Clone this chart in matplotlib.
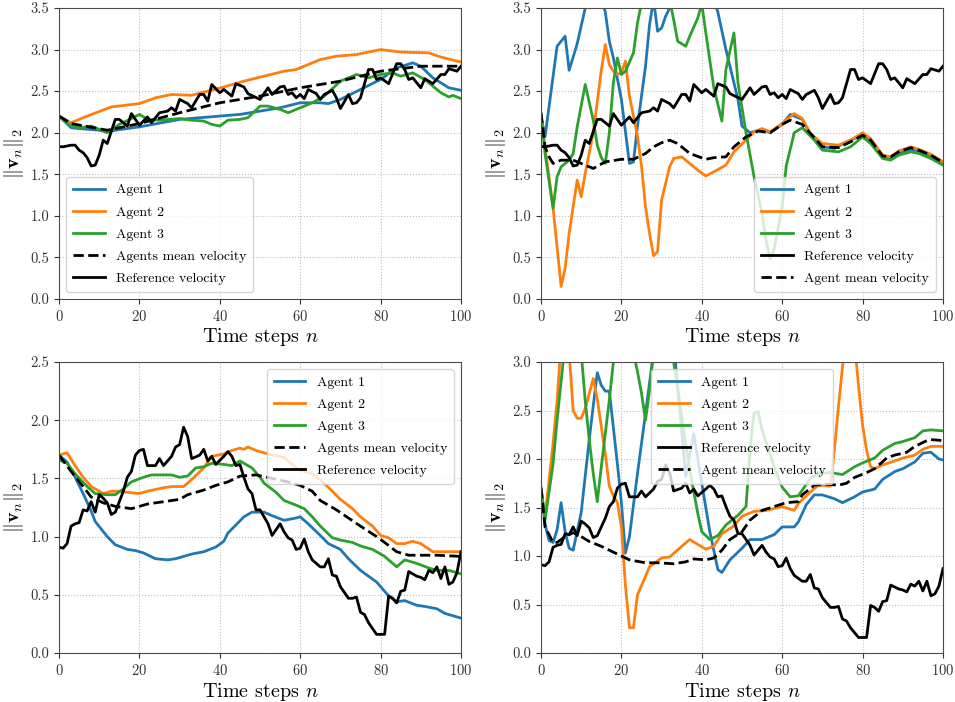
import matplotlib
matplotlib.use("Agg")
import matplotlib.pyplot as plt

plt.rcParams['font.family'] = 'serif'
plt.rcParams['font.serif'] = ['cmr10']
plt.rcParams['mathtext.fontset'] = 'cm'
plt.rcParams['axes.formatter.use_mathtext'] = True

# ---------------- Panel A (top row) reference velocity ----------------
ref_a_x = [0, 1, 3, 4, 5, 6, 7, 8, 9, 10, 11, 12, 14, 15, 17, 18, 20, 22, 23, 25, 27, 28, 29, 30,
           32, 33, 35, 36, 37, 38, 40, 41, 43, 44, 46, 47, 50, 52, 53, 55, 56, 57, 58, 59, 60, 61,
           62, 64, 65, 66, 68, 69, 70, 72, 73, 74, 75, 77, 78, 79, 80, 82, 84, 85, 86, 87, 88, 90,
           91, 93, 95, 96, 97, 99, 100]
ref_a_y = [1.835, 1.83, 1.85, 1.85, 1.79, 1.76, 1.70, 1.60, 1.61, 1.73, 1.91, 1.87, 2.16, 2.16, 2.08,
           2.23, 2.09, 2.19, 2.12, 2.24, 2.26, 2.30, 2.26, 2.40, 2.35, 2.30, 2.46, 2.46, 2.38, 2.58,
           2.48, 2.52, 2.44, 2.59, 2.55, 2.47, 2.40, 2.54, 2.46, 2.55, 2.56, 2.46, 2.48, 2.42, 2.46,
           2.41, 2.52, 2.47, 2.40, 2.46, 2.51, 2.42, 2.29, 2.46, 2.35, 2.36, 2.42, 2.76, 2.76, 2.64,
           2.66, 2.59, 2.83, 2.83, 2.76, 2.64, 2.66, 2.54, 2.65, 2.59, 2.70, 2.70, 2.77, 2.74, 2.80]

# ---------------- Panel 1 (top left) ----------------
p1_a1_x = [0, 3, 5, 10, 12, 14, 20, 30, 40, 45, 50, 55, 60, 65, 67, 70, 75, 80, 84, 88, 90, 93, 97, 100]
p1_a1_y = [2.2, 2.06, 2.05, 2.03, 2.01, 2.03, 2.07, 2.16, 2.2, 2.22, 2.26, 2.3, 2.36, 2.36, 2.35, 2.4,
           2.52, 2.64, 2.78, 2.84, 2.8, 2.66, 2.54, 2.51]
p1_a2_x = [0, 3, 7, 13, 20, 24, 28, 33, 37, 41, 46, 51, 56, 59, 62, 65, 69, 74, 77, 80, 85, 92, 95, 100]
p1_a2_y = [2.2, 2.12, 2.2, 2.31, 2.35, 2.42, 2.46, 2.45, 2.5, 2.55, 2.62, 2.68, 2.74, 2.76, 2.82, 2.88,
           2.92, 2.94, 2.97, 3.0, 2.97, 2.96, 2.91, 2.85]
p1_a3_x = [0, 3, 5, 8, 12, 15, 18, 20, 22, 25, 30, 33, 36, 38, 40, 42, 45, 47, 50, 52, 55, 57, 60, 63,
           66, 70, 74, 77, 80, 83, 85, 88, 91, 95, 97, 98, 100]
p1_a3_y = [2.2, 2.08, 2.06, 2.08, 2.0, 2.1, 2.17, 2.22, 2.16, 2.15, 2.17, 2.15, 2.14, 2.1, 2.08, 2.15,
           2.16, 2.18, 2.32, 2.32, 2.28, 2.24, 2.3, 2.36, 2.44, 2.62, 2.7, 2.66, 2.7, 2.72, 2.68, 2.72,
           2.64, 2.48, 2.43, 2.45, 2.41]
p1_mean_x = [0, 3, 12, 20, 30, 40, 50, 60, 70, 80, 90, 100]
p1_mean_y = [2.2, 2.11, 2.03, 2.11, 2.24, 2.36, 2.44, 2.54, 2.62, 2.74, 2.8, 2.8]

# ---------------- Panel 2 (top right) ----------------
p2_a1_x = [0, 1, 4, 6, 7, 9, 11, 12, 14, 16, 17, 18, 20, 22, 23, 24, 26, 27, 28, 29, 30, 31, 32, 33,
           38, 43, 44, 46, 49, 50, 52, 55, 57, 60, 62, 65, 67, 70, 73, 76, 80, 82, 85, 87, 89, 92,
           94, 97, 100]
p2_a1_y = [2.2, 1.95, 3.04, 3.16, 2.75, 3.07, 3.5, 3.8, 3.8, 3.45, 3.1, 2.9, 2.4, 1.63, 1.65, 2.08,
           2.8, 3.3, 3.6, 3.22, 3.26, 3.4, 3.5, 3.7, 3.9, 3.6, 3.45, 3.0, 2.4, 2.08, 2.0, 2.04, 2.0,
           2.1, 2.22, 2.16, 1.98, 1.83, 1.81, 1.89, 1.97, 1.89, 1.71, 1.69, 1.76, 1.8, 1.78, 1.71, 1.63]
p2_a2_x = [0, 3, 5, 6, 7, 8, 9, 10, 11, 13, 15, 16, 17, 18, 19, 20, 21, 22, 24, 25, 26, 27, 28, 29,
           30, 32, 33, 35, 36, 39, 41, 43, 46, 48, 51, 53, 55, 57, 60, 63, 65, 67, 70, 74, 77, 80,
           82, 85, 87, 89, 92, 94, 97, 100]
p2_a2_y = [2.2, 1.1, 0.15, 0.37, 0.79, 1.11, 1.43, 1.23, 1.51, 2.0, 2.75, 3.06, 2.82, 2.74, 2.7, 2.72,
           2.86, 2.44, 1.96, 1.6, 1.11, 0.79, 0.52, 0.57, 1.19, 1.59, 1.69, 1.71, 1.67, 1.55, 1.48,
           1.53, 1.61, 1.77, 1.91, 2.01, 2.05, 2.01, 2.11, 2.23, 2.17, 1.99, 1.87, 1.85, 1.91, 2.0,
           1.93, 1.73, 1.71, 1.78, 1.83, 1.8, 1.74, 1.65]
p2_a3_x = [0, 1, 3, 4, 5, 7, 8, 9, 11, 13, 14, 15, 16, 17, 18, 19, 20, 21, 23, 24, 26, 28, 30, 32,
           33, 34, 36, 37, 39, 40, 41, 43, 45, 46, 48, 49, 51, 53, 55, 56, 57, 58, 60, 61, 63, 65,
           66, 68, 70, 74, 77, 80, 82, 85, 87, 89, 92, 94, 97, 100]
p2_a3_y = [2.22, 1.75, 1.09, 1.47, 1.59, 1.67, 1.75, 2.07, 2.58, 2.15, 1.85, 1.7, 1.63, 2.0, 2.6, 2.9,
           2.7, 2.74, 2.96, 3.32, 3.8, 4.0, 3.8, 3.6, 3.36, 3.1, 3.04, 3.16, 3.38, 3.55, 3.2, 2.54,
           2.14, 2.76, 3.2, 2.6, 2.0, 1.47, 1.03, 0.7, 0.48, 0.6, 1.11, 1.6, 2.0, 2.06, 2.01, 1.91,
           1.79, 1.77, 1.83, 1.95, 1.87, 1.69, 1.67, 1.73, 1.77, 1.75, 1.69, 1.61]
p2_mean_x = [0, 1, 2, 3, 5, 8, 10, 13, 16, 20, 23, 26, 28, 30, 32, 34, 37, 41, 43, 46, 48, 51, 54, 57,
             60, 62, 65, 68, 70, 74, 77, 80, 82, 85, 87, 89, 92, 94, 97, 100]
p2_mean_y = [2.24, 1.83, 1.71, 1.63, 1.67, 1.67, 1.63, 1.57, 1.65, 1.68, 1.68, 1.75, 1.83, 1.88, 1.91,
             1.87, 1.75, 1.68, 1.7, 1.71, 1.83, 1.95, 2.02, 2.0, 2.1, 2.15, 2.1, 1.94, 1.83, 1.82,
             1.89, 1.97, 1.91, 1.72, 1.71, 1.77, 1.82, 1.79, 1.73, 1.64]

# ---------------- Panel B (bottom row) reference velocity ----------------
ref_b_x = [0, 1, 2, 3, 4, 5, 6, 7, 8, 9, 10, 11, 12, 13, 14, 16, 17, 18, 19, 20, 21, 22, 24, 25, 26,
           28, 29, 30, 31, 32, 33, 35, 36, 37, 38, 39, 41, 42, 43, 44, 45, 46, 47, 48, 49, 50, 52,
           53, 54, 55, 56, 57, 58, 59, 60, 61, 62, 63, 65, 66, 67, 68, 69, 70, 72, 73, 74, 75, 76,
           77, 78, 79, 80, 81, 82, 83, 84, 85, 86, 87, 88, 89, 90, 91, 92, 93, 94, 95, 96, 97, 98,
           99, 100]
ref_b_y = [0.91, 0.90, 0.94, 1.09, 1.11, 1.12, 1.23, 1.22, 1.30, 1.21, 1.36, 1.33, 1.29, 1.19, 1.21,
           1.39, 1.51, 1.56, 1.70, 1.74, 1.75, 1.61, 1.61, 1.67, 1.61, 1.69, 1.77, 1.79, 1.94, 1.86,
           1.67, 1.70, 1.75, 1.65, 1.69, 1.62, 1.69, 1.73, 1.69, 1.61, 1.62, 1.51, 1.41, 1.37, 1.23,
           1.23, 1.11, 1.01, 1.06, 1.11, 1.04, 0.99, 0.97, 0.89, 0.90, 0.98, 0.87, 0.80, 0.74, 0.74,
           0.81, 0.67, 0.66, 0.57, 0.47, 0.47, 0.48, 0.35, 0.33, 0.26, 0.21, 0.16, 0.16, 0.16, 0.49,
           0.47, 0.43, 0.53, 0.54, 0.70, 0.68, 0.66, 0.65, 0.63, 0.71, 0.69, 0.74, 0.64, 0.74, 0.59,
           0.61, 0.69, 0.87]

# ---------------- Panel 3 (bottom left) ----------------
p3_a1_x = [0, 2, 4, 6, 8, 9, 12, 14, 17, 19, 21, 24, 27, 29, 31, 33, 36, 39, 41, 42, 44, 46, 48, 51,
           53, 56, 59, 60, 62, 65, 67, 70, 72, 75, 79, 82, 84, 86, 89, 91, 94, 96, 99, 100]
p3_a1_y = [1.7, 1.64, 1.51, 1.37, 1.22, 1.13, 1.0, 0.93, 0.89, 0.88, 0.86, 0.81, 0.8, 0.81, 0.83,
           0.85, 0.87, 0.91, 0.96, 1.03, 1.1, 1.17, 1.21, 1.21, 1.18, 1.14, 1.16, 1.17, 1.11, 1.01,
           0.94, 0.89, 0.81, 0.71, 0.61, 0.49, 0.44, 0.45, 0.41, 0.40, 0.38, 0.34, 0.31, 0.30]
p3_a2_x = [0, 2, 4, 6, 8, 11, 13, 15, 17, 20, 22, 26, 28, 31, 33, 36, 38, 41, 43, 45, 46, 47, 49, 52,
           56, 58, 60, 63, 65, 68, 70, 73, 75, 78, 80, 82, 84, 86, 88, 90, 93, 97, 100]
p3_a2_y = [1.7, 1.72, 1.61, 1.51, 1.43, 1.37, 1.39, 1.39, 1.38, 1.37, 1.39, 1.42, 1.43, 1.43, 1.49,
           1.59, 1.69, 1.71, 1.74, 1.76, 1.75, 1.77, 1.74, 1.71, 1.68, 1.62, 1.57, 1.54, 1.49, 1.39,
           1.32, 1.24, 1.17, 1.09, 1.01, 0.99, 0.94, 0.94, 0.96, 0.94, 0.87, 0.87, 0.87]
p3_a3_x = [0, 2, 4, 7, 9, 12, 14, 16, 18, 21, 23, 26, 28, 30, 32, 34, 36, 38, 41, 43, 45, 46, 48, 50,
           51, 54, 56, 59, 61, 63, 65, 68, 70, 73, 75, 78, 81, 84, 86, 89, 92, 94, 97, 100]
p3_a3_y = [1.66, 1.63, 1.54, 1.43, 1.37, 1.36, 1.36, 1.41, 1.47, 1.51, 1.53, 1.53, 1.53, 1.51, 1.52,
           1.59, 1.6, 1.63, 1.62, 1.61, 1.65, 1.63, 1.59, 1.51, 1.46, 1.38, 1.31, 1.27, 1.24, 1.17,
           1.09, 0.99, 0.97, 0.95, 0.92, 0.89, 0.83, 0.74, 0.8, 0.77, 0.73, 0.71, 0.71, 0.68]
p3_mean_x = [0, 3, 6, 8, 11, 14, 18, 22, 26, 30, 32, 36, 39, 42, 45, 49, 53, 57, 60, 63, 65, 69, 72,
             75, 79, 81, 84, 87, 90, 94, 100]
p3_mean_y = [1.7, 1.56, 1.43, 1.34, 1.29, 1.26, 1.24, 1.28, 1.3, 1.32, 1.36, 1.4, 1.44, 1.47, 1.52,
             1.53, 1.5, 1.47, 1.44, 1.39, 1.31, 1.23, 1.16, 1.09, 1.0, 0.95, 0.87, 0.84, 0.84, 0.84,
             0.83]

# ---------------- Panel 4 (bottom right) ----------------
p4_a1_x = [0, 1, 2, 3, 4, 5, 6, 7, 8, 10, 12, 13, 14, 15, 16, 17, 19, 20, 21, 22, 24, 26, 28, 30, 33,
           35, 36, 38, 40, 42, 44, 45, 47, 50, 52, 55, 58, 60, 63, 64, 66, 68, 70, 73, 75, 78, 80,
           83, 85, 88, 90, 93, 95, 97, 99, 100]
p4_a1_y = [1.7, 1.33, 1.16, 1.14, 1.27, 1.55, 1.25, 1.08, 1.06, 1.45, 2.2, 2.55, 2.89, 2.76, 2.7, 2.7,
           1.95, 1.55, 1.03, 1.2, 1.85, 2.47, 3.1, 3.4, 3.2, 2.3, 1.82, 2.26, 1.75, 1.25, 0.86, 0.83,
           0.96, 1.08, 1.17, 1.17, 1.22, 1.3, 1.3, 1.35, 1.53, 1.63, 1.63, 1.59, 1.55, 1.61, 1.66,
           1.69, 1.79, 1.87, 1.9, 1.97, 2.06, 2.07, 2.0, 1.99]
p4_a2_x = [0, 1, 3, 4, 5, 6, 7, 8, 9, 10, 11, 13, 14, 16, 17, 18, 19, 20, 21, 22, 23, 24, 26, 27, 30,
           32, 35, 37, 39, 41, 43, 45, 48, 50, 53, 56, 60, 63, 64, 67, 69, 72, 73, 74, 75, 76, 77,
           78, 79, 80, 81, 82, 83, 85, 88, 90, 93, 95, 97, 100]
p4_a2_y = [1.7, 1.4, 2.16, 2.6, 3.2, 3.3, 3.1, 2.5, 2.42, 2.42, 2.52, 2.83, 2.62, 2.05, 1.72, 1.62,
           1.55, 1.3, 0.7, 0.26, 0.26, 0.6, 0.79, 0.89, 0.98, 0.99, 1.1, 1.17, 1.12, 1.07, 1.1, 1.23,
           1.31, 1.41, 1.46, 1.47, 1.51, 1.47, 1.54, 1.66, 1.73, 1.72, 2.1, 2.54, 2.95, 3.3, 3.45,
           3.2, 2.75, 2.35, 2.09, 1.92, 1.9, 1.94, 1.98, 2.01, 2.04, 2.1, 2.13, 2.13]
p4_a3_x = [0, 1, 3, 4, 5, 6, 8, 10, 11, 12, 13, 14, 15, 17, 18, 20, 22, 24, 25, 26, 27, 28, 30, 33,
           35, 37, 39, 40, 42, 44, 46, 49, 51, 52, 53, 54, 55, 58, 60, 62, 64, 65, 67, 69, 72, 75,
           78, 80, 83, 85, 88, 90, 93, 95, 97, 100]
p4_a3_y = [1.7, 1.37, 1.95, 2.4, 2.8, 3.2, 3.5, 3.1, 2.6, 2.2, 1.85, 1.56, 1.92, 2.61, 3.0, 3.4, 3.3,
           2.9, 2.68, 2.4, 2.71, 3.1, 3.4, 3.0, 2.43, 1.89, 1.44, 1.25, 1.17, 1.21, 1.32, 1.42, 1.51,
           2.09, 2.47, 2.49, 2.3, 1.92, 1.71, 1.61, 1.62, 1.68, 1.8, 1.85, 1.86, 1.84, 1.92, 1.96,
           2.01, 2.09, 2.16, 2.18, 2.22, 2.29, 2.3, 2.29]
p4_mean_x = [0, 1, 3, 4, 6, 8, 10, 12, 15, 17, 20, 22, 26, 29, 33, 36, 38, 41, 43, 45, 47, 50, 52, 55,
             58, 61, 64, 65, 68, 71, 74, 76, 78, 81, 83, 86, 88, 91, 93, 96, 97, 100]
p4_mean_y = [1.7, 1.3, 1.14, 1.14, 1.2, 1.24, 1.2, 1.15, 1.1, 1.06, 1.0, 0.96, 0.93, 0.93, 0.92, 0.94,
             0.97, 0.96, 0.98, 1.06, 1.17, 1.25, 1.37, 1.47, 1.51, 1.55, 1.56, 1.63, 1.73, 1.74, 1.73,
             1.75, 1.81, 1.86, 1.9, 2.01, 2.04, 2.07, 2.13, 2.19, 2.2, 2.19]

agent_labels = ["Agent 1", "Agent 2", "Agent 3"]
agent_colors = ["#1f77b4", "#ff7f0e", "#2ca02c"]

fig = plt.figure(figsize=(9.55, 7.02), dpi=100)
boxes = [
    [0.0618, 0.5741, 0.4209, 0.4145],
    [0.5665, 0.5741, 0.4209, 0.4145],
    [0.0618, 0.0698, 0.4209, 0.4145],
    [0.5665, 0.0698, 0.4209, 0.4145],
]
axes = [fig.add_axes(b) for b in boxes]

LW = 2.0

def style(ax, ymax):
    ax.set_xlim(0, 100)
    ax.set_ylim(0, ymax)
    ax.set_xticks([0, 20, 40, 60, 80, 100])
    ticks = [i * 0.5 for i in range(int(round(ymax / 0.5)) + 1)]
    ax.set_yticks(ticks)
    ax.set_yticklabels([f"{t:.1f}" for t in ticks])
    ax.grid(True, linestyle=':', color='0.75', linewidth=0.8)
    ax.set_axisbelow(True)
    ax.tick_params(labelsize=10.5, colors='0.2', length=3.5)
    for s in ax.spines.values():
        s.set_color('0.3')
    ax.set_xlabel('Time steps $n$', fontsize=14.5, labelpad=2)
    ax.set_ylabel(r'$\Vert\mathbf{v}_n\Vert_2$', fontsize=14.5, labelpad=3)

def plot_panel(ax, agents, mean, ref, mean_label, ref_first, ymax, loc):
    for (xs, ys), lab, col in zip(agents, agent_labels, agent_colors):
        ax.plot(xs, ys, color=col, lw=LW, label=lab)
    if ref_first:
        ax.plot(ref[0], ref[1], color='black', lw=LW, label='Reference velocity')
        ax.plot(mean[0], mean[1], color='black', lw=LW, ls='--', label=mean_label)
    else:
        ax.plot(mean[0], mean[1], color='black', lw=LW, ls='--', label=mean_label)
        ax.plot(ref[0], ref[1], color='black', lw=LW, label='Reference velocity')
    style(ax, ymax)
    ax.legend(loc=loc, fontsize=10, labelspacing=0.68, handlelength=2.3,
              borderpad=0.5)

plot_panel(axes[0], [(p1_a1_x, p1_a1_y), (p1_a2_x, p1_a2_y), (p1_a3_x, p1_a3_y)],
           (p1_mean_x, p1_mean_y), (ref_a_x, ref_a_y), 'Agents mean velocity', False, 3.5, 'lower left')
plot_panel(axes[1], [(p2_a1_x, p2_a1_y), (p2_a2_x, p2_a2_y), (p2_a3_x, p2_a3_y)],
           (p2_mean_x, p2_mean_y), (ref_a_x, ref_a_y), 'Agent mean velocity', True, 3.5, 'lower right')
plot_panel(axes[2], [(p3_a1_x, p3_a1_y), (p3_a2_x, p3_a2_y), (p3_a3_x, p3_a3_y)],
           (p3_mean_x, p3_mean_y), (ref_b_x, ref_b_y), 'Agents mean velocity', False, 2.5, 'upper right')
plot_panel(axes[3], [(p4_a1_x, p4_a1_y), (p4_a2_x, p4_a2_y), (p4_a3_x, p4_a3_y)],
           (p4_mean_x, p4_mean_y), (ref_b_x, ref_b_y), 'Agent mean velocity', True, 3.0, 'upper center')

fig.savefig('out.png', dpi=100)
